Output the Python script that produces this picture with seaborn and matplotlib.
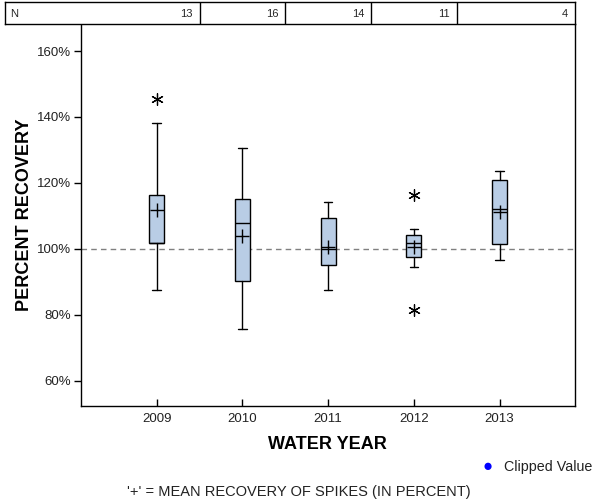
import matplotlib
matplotlib.use("Agg")
import matplotlib.pyplot as plt
import seaborn as sns
import pandas as pd
import numpy as np
from matplotlib.ticker import FuncFormatter

# ---- data ----
years = ["2009", "2010", "2011", "2012", "2013"]
counts = [13, 16, 14, 11, 4]
whisker_low = [87.4, 75.8, 87.6, 94.5, 96.7]
q1 = [101.8, 90.3, 95.1, 97.5, 101.4]
median = [101.8, 107.8, 99.9, 101.8, 112.0]
q3 = [116.4, 115.2, 109.3, 104.2, 120.8]
whisker_high = [138.2, 130.5, 114.2, 106.0, 123.5]
means = [111.8, 103.9, 100.5, 100.5, 111.1]
outlier_years = ["2009", "2012", "2012"]
outlier_values = [145.4, 116.4, 81.5]
y_ticks = [60, 80, 100, 120, 140, 160]

sns.set_theme(style="white")
plt.rcParams["font.family"] = ["Liberation Sans", "DejaVu Sans"]

fig = plt.figure(figsize=(6, 5), dpi=100)
W, H = 600, 500
ax_l, ax_r, ax_t, ax_b = 80.7, 575, 24, 405.7
ax = fig.add_axes([ax_l / W, 1 - ax_b / H, (ax_r - ax_l) / W, (ax_b - ax_t) / H])

box_color = "#B9CDE5"
pos = np.arange(len(years))
stats = []
for i in range(len(years)):
    stats.append(dict(med=median[i], q1=q1[i], q3=q3[i],
                      whislo=whisker_low[i], whishi=whisker_high[i], fliers=[]))
ax.bxp(stats, positions=pos, widths=0.175, patch_artist=True, showfliers=False,
       boxprops=dict(facecolor=box_color, edgecolor="black", linewidth=1),
       medianprops=dict(color="black", linewidth=1),
       whiskerprops=dict(color="black", linewidth=1),
       capprops=dict(color="black", linewidth=1), capwidths=0.1)

ax.axhline(100, color="#808080", linestyle=(0, (4, 3)), linewidth=1, zorder=0.5)

mean_df = pd.DataFrame({"x": pos, "mean": means})
sns.scatterplot(data=mean_df, x="x", y="mean", marker="+", s=110, color="black",
                linewidth=1, ax=ax, zorder=5, legend=False)

out_df = pd.DataFrame({"x": [years.index(y) for y in outlier_years], "v": outlier_values})
sns.scatterplot(data=out_df, x="x", y="v", marker=(6, 2, 0), s=70, color="black",
                linewidth=0.9, ax=ax, zorder=5, legend=False)

ax.set_xlim(-0.887, 4.88)
ax.set_ylim(52.4, 168.2)
ax.set_xticks(pos)
ax.set_xticklabels(years)
ax.set_yticks(y_ticks)
ax.yaxis.set_major_formatter(FuncFormatter(lambda v, p: f"{int(v)}%"))
ax.tick_params(axis="y", direction="out", length=5, width=1, color="black",
               labelsize=9.5, labelcolor="#222222", pad=2, left=True)
ax.tick_params(axis="x", direction="in", length=5, width=1, color="black",
               labelsize=9.5, labelcolor="#222222", pad=5, bottom=True)
for s in ["left", "bottom", "right"]:
    ax.spines[s].set_visible(True)
    ax.spines[s].set_color("black")
    ax.spines[s].set_linewidth(1)
ax.spines["top"].set_visible(False)
ax.set_xlabel("WATER YEAR", fontsize=13, fontweight="bold", labelpad=8, color="black")
ax.set_ylabel("PERCENT RECOVERY", fontsize=13, fontweight="bold", labelpad=3, color="black")
ax.grid(False)

# ---- N table ----
tab_l, tab_r, tab_t, tab_b = 5, 575, 2, 24
tax = fig.add_axes([tab_l / W, 1 - tab_b / H, (tab_r - tab_l) / W, (tab_b - tab_t) / H])
x0 = ax.get_xlim()[0]
scale = (ax_r - ax_l) / (ax.get_xlim()[1] - x0)
def xpix(v):
    return ax_l + (v - x0) * scale
tax.set_xlim(tab_l, tab_r)
tax.set_ylim(0, 1)
tax.set_xticks([])
tax.set_yticks([])
for s in tax.spines.values():
    s.set_visible(True)
    s.set_color("black")
    s.set_linewidth(1)
for i in range(len(years) - 1):
    tax.axvline(xpix(i + 0.5), color="black", linewidth=1)
tax.text(10, 0.45, "N", fontsize=8, va="center", ha="left")
for i, n in enumerate(counts):
    right = xpix(i + 0.5) if i < len(years) - 1 else tab_r
    tax.text(right - 7, 0.45, str(n), fontsize=8, va="center", ha="right")

# ---- legend & footnote ----
fig.text(488 / W, 1 - 466 / H, "\u25CF", color="blue", fontsize=12, ha="center", va="center")
fig.text(504 / W, 1 - 467 / H, "Clipped Value", fontsize=10.3, ha="left", va="center",
         color="#222222")
fig.text(299 / W, 1 - 492 / H, "'+' = MEAN RECOVERY OF SPIKES (IN PERCENT)", fontsize=10.5,
         ha="center", va="center", color="#222222")

fig.savefig("out.png", dpi=100)
